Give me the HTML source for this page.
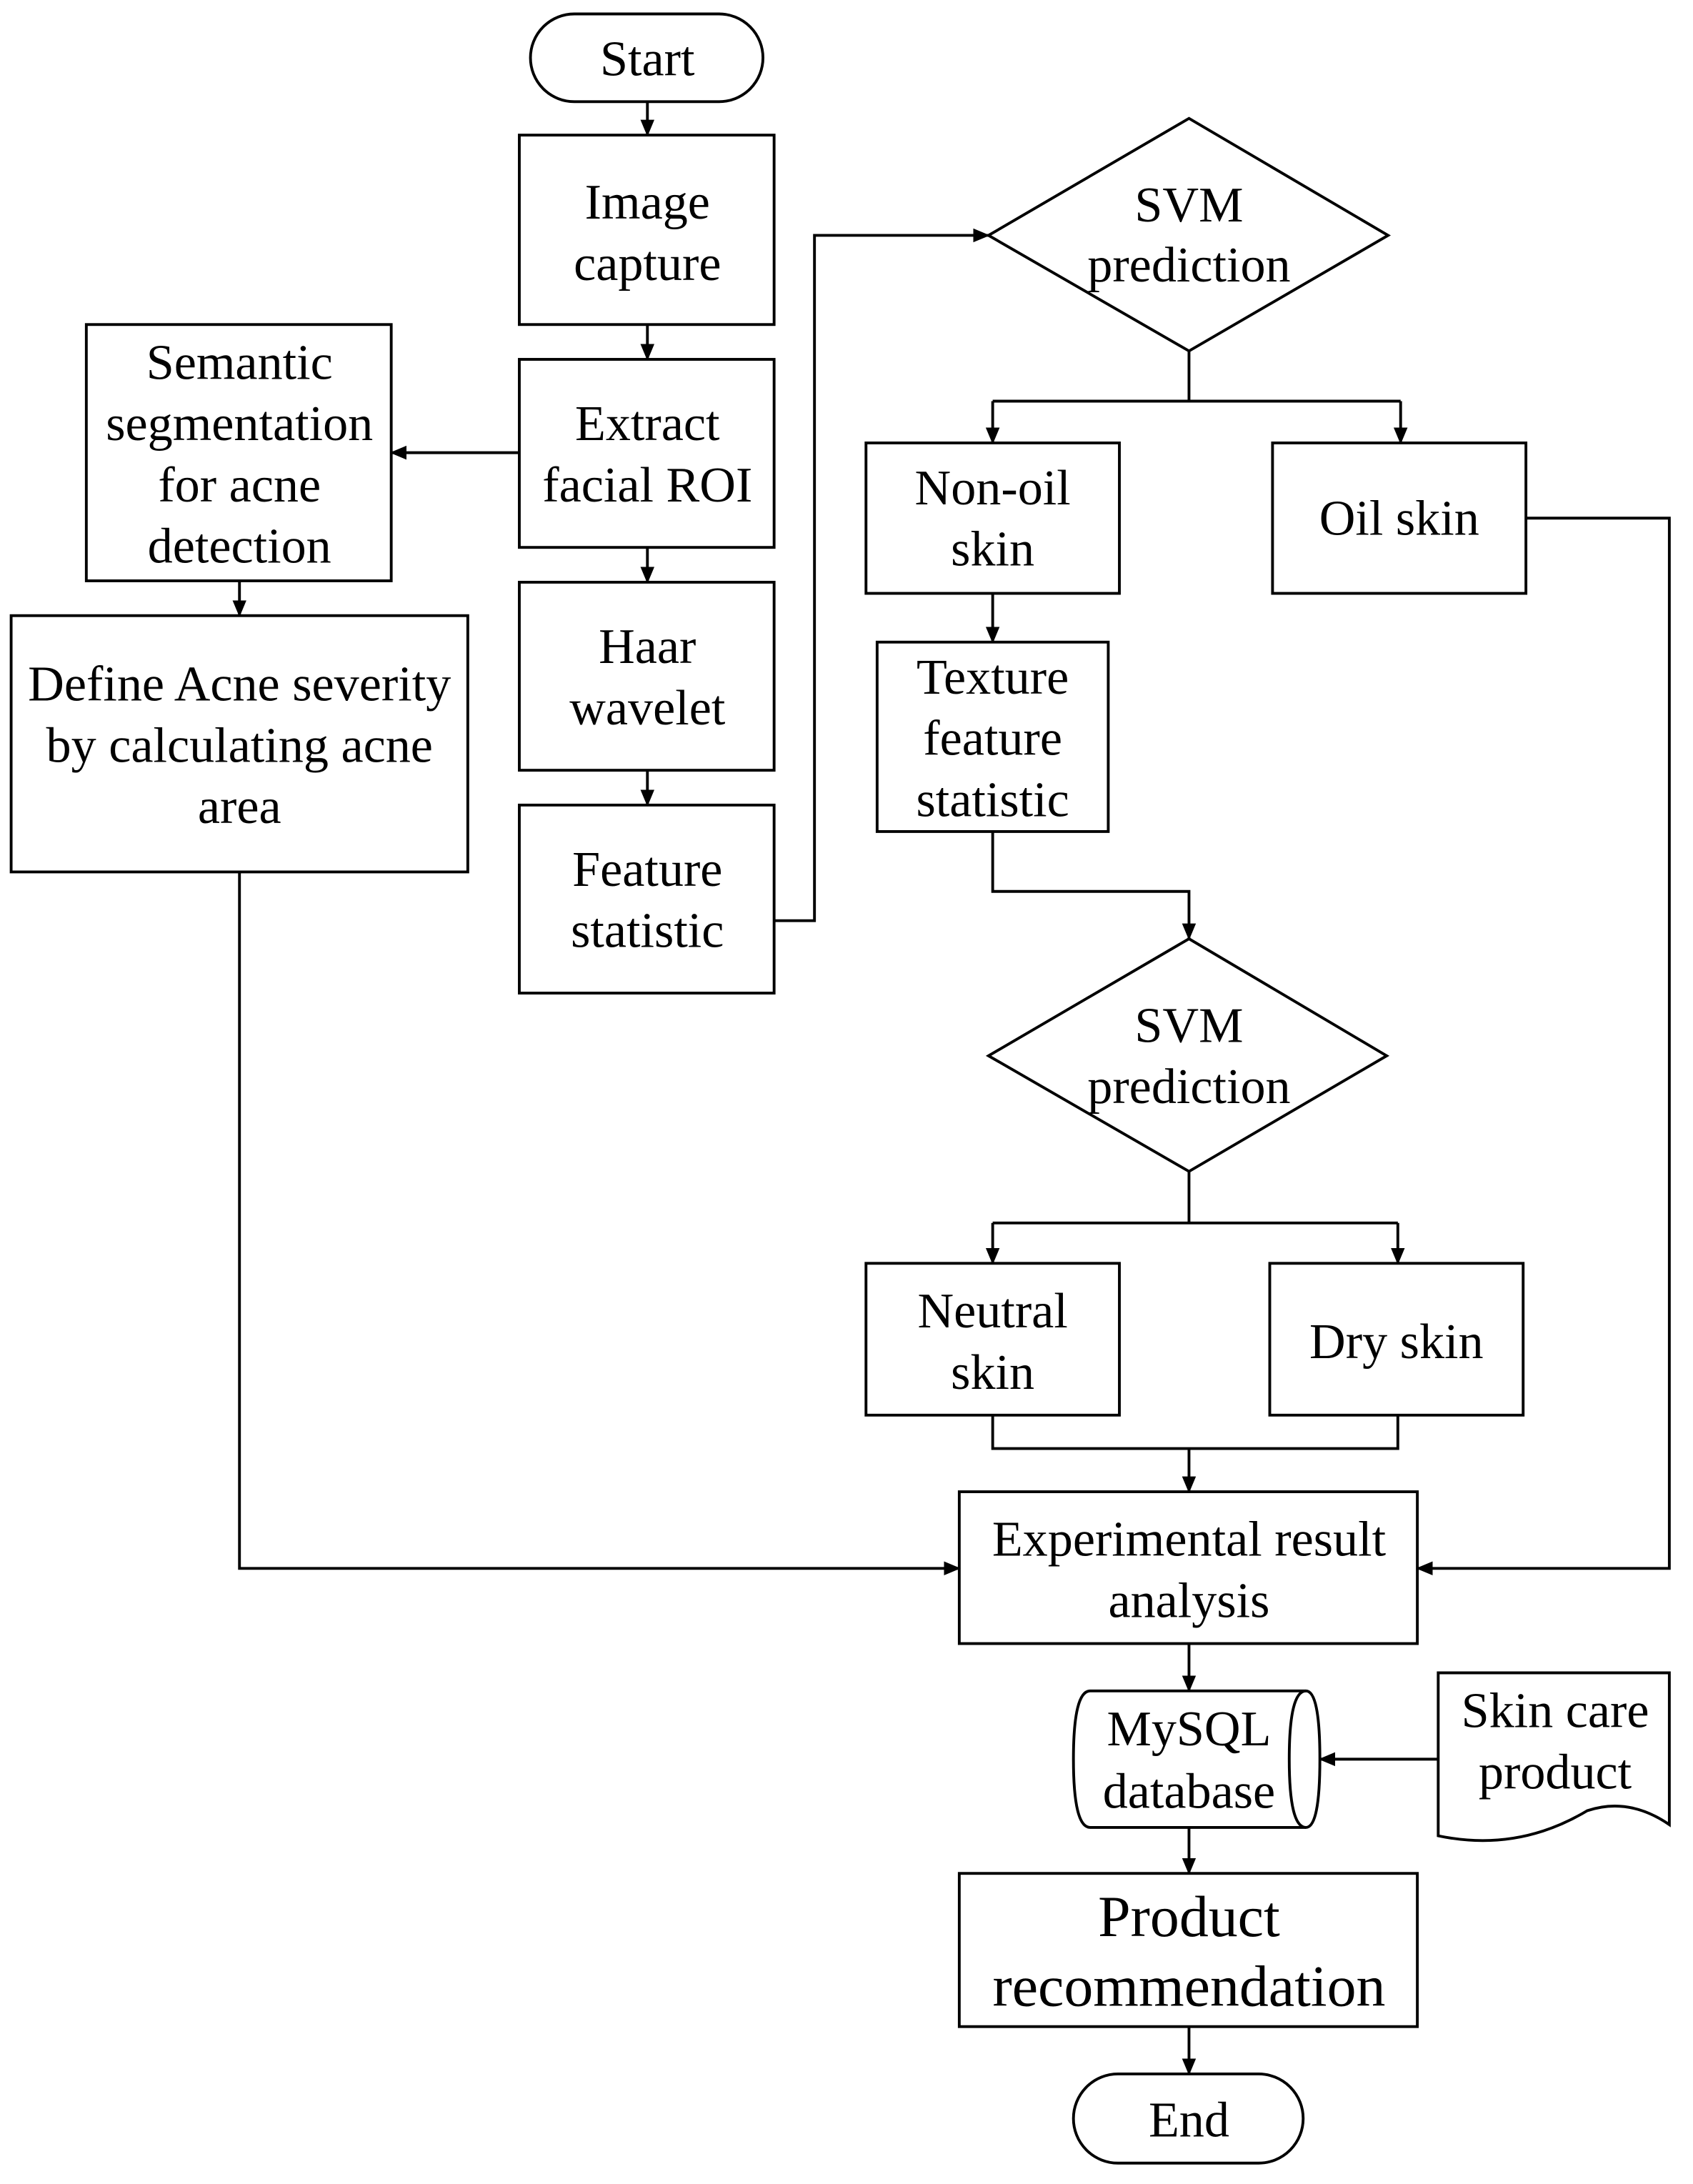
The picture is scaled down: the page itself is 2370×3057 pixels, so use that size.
<!DOCTYPE html>
<html><head><meta charset="utf-8"><style>
html,body{margin:0;padding:0;background:#fff;}
svg{display:block;}
text{font-family:"Liberation Serif",serif;font-size:36px;fill:#000;text-anchor:middle;}
</style></head><body>
<svg width="2370" height="3057" viewBox="0 0 1216 1568" preserveAspectRatio="none" xmlns="http://www.w3.org/2000/svg">
<defs><marker id="a" markerWidth="12" markerHeight="12" refX="11" refY="6" orient="auto" markerUnits="userSpaceOnUse"><path d="M0,1 L12,6 L0,11 Z" fill="#000"/></marker></defs>
<g fill="none" stroke="#000" stroke-width="2">
<rect x="381" y="10" width="167" height="63" rx="31.5"/>
<rect x="373" y="97" width="183" height="136"/>
<rect x="373" y="258" width="183" height="135"/>
<rect x="373" y="418" width="183" height="135"/>
<rect x="373" y="578" width="183" height="135"/>
<rect x="62" y="233" width="219" height="184"/>
<rect x="8" y="442" width="328" height="184"/>
<path d="M710,169 L854,85 L997,169 L854,252 Z"/>
<rect x="622" y="318" width="182" height="108"/>
<rect x="914" y="318" width="182" height="108"/>
<rect x="630" y="461" width="166" height="136"/>
<path d="M710,758 L854,674 L996,758 L854,841 Z"/>
<rect x="622" y="907" width="182" height="109"/>
<rect x="912" y="907" width="182" height="109"/>
<rect x="689" y="1071" width="329" height="109"/>
<path d="M783,1214 L938,1214 Q948,1214 948,1263 Q948,1312 938,1312 L783,1312 Q771,1312 771,1263 Q771,1214 783,1214 Z"/>
<path d="M938,1214 Q926,1214 926,1263 Q926,1312 938,1312"/>
<path d="M1033,1201 L1199,1201 L1199,1310 Q1170,1290 1140,1300 Q1090,1330 1033,1318 Z"/>
<rect x="689" y="1345" width="329" height="110"/>
<rect x="771" y="1489" width="165" height="64" rx="32"/>
<path d="M465,73 V97" marker-end="url(#a)"/>
<path d="M465,233 V258" marker-end="url(#a)"/>
<path d="M465,393 V418" marker-end="url(#a)"/>
<path d="M465,553 V578" marker-end="url(#a)"/>
<path d="M373,325 H281" marker-end="url(#a)"/>
<path d="M172,417 V442" marker-end="url(#a)"/>
<path d="M172,626 V1126 H689" marker-end="url(#a)"/>
<path d="M556,661 H585 V169 H710" marker-end="url(#a)"/>
<path d="M854,252 V288 M713,288 H1006"/>
<path d="M713,288 V318" marker-end="url(#a)"/>
<path d="M1006,288 V318" marker-end="url(#a)"/>
<path d="M1096,372 H1199 V1126 H1018" marker-end="url(#a)"/>
<path d="M713,426 V461" marker-end="url(#a)"/>
<path d="M713,597 V640 H854 V674" marker-end="url(#a)"/>
<path d="M854,841 V878 M713,878 H1004"/>
<path d="M713,878 V907" marker-end="url(#a)"/>
<path d="M1004,878 V907" marker-end="url(#a)"/>
<path d="M713,1016 V1040 H1004 V1016 M854,1040 V1071" marker-end="url(#a)"/>
<path d="M854,1180 V1214" marker-end="url(#a)"/>
<path d="M1033,1263 H948" marker-end="url(#a)"/>
<path d="M854,1312 V1345" marker-end="url(#a)"/>
<path d="M854,1455 V1489" marker-end="url(#a)"/>
</g>
<text x="465" y="54">Start</text>
<text x="465" y="157">Image</text><text x="465" y="201">capture</text>
<text x="465" y="316">Extract</text><text x="465" y="360">facial ROI</text>
<text x="465" y="476">Haar</text><text x="465" y="520">wavelet</text>
<text x="465" y="636">Feature</text><text x="465" y="680">statistic</text>
<text x="172" y="272">Semantic</text><text x="172" y="316">segmentation</text><text x="172" y="360">for acne</text><text x="172" y="404">detection</text>
<text x="172" y="503">Define Acne severity</text><text x="172" y="547">by calculating acne</text><text x="172" y="591">area</text>
<text x="854" y="159">SVM</text><text x="854" y="202">prediction</text>
<text x="713" y="362">Non-oil</text><text x="713" y="406">skin</text>
<text x="1005" y="384">Oil skin</text>
<text x="713" y="498">Texture</text><text x="713" y="542">feature</text><text x="713" y="586">statistic</text>
<text x="854" y="748">SVM</text><text x="854" y="792">prediction</text>
<text x="713" y="953">Neutral</text><text x="713" y="997">skin</text>
<text x="1003" y="975">Dry skin</text>
<text x="854" y="1117">Experimental result</text><text x="854" y="1161">analysis</text>
<text x="854" y="1253">MySQL</text><text x="854" y="1298">database</text>
<text x="1117" y="1240">Skin care</text><text x="1117" y="1284">product</text>
<text x="854" y="1390" style="font-size:42px">Product</text><text x="854" y="1440" style="font-size:42px">recommendation</text>
<text x="854" y="1534">End</text>
</svg>
</body></html>
